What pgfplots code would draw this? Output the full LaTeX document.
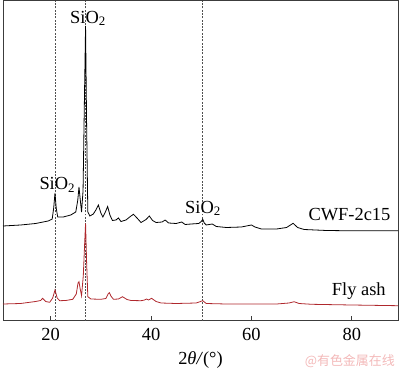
\documentclass[border=0pt]{standalone}
\usepackage{pgfplots}
\pgfplotsset{compat=1.18}
\usepackage{fontspec}
\setmainfont{Liberation Serif}
\newfontfamily\cjk{Noto Sans CJK SC}
\definecolor{redline}{RGB}{175,40,45}
\definecolor{framec}{RGB}{60,60,60}
\definecolor{dashc}{RGB}{80,80,80}
\definecolor{wm}{RGB}{243,185,185}
\begin{document}
\begin{tikzpicture}
\begin{axis}[
  at={(0,0)}, anchor=south west,
  scale only axis, width=395bp, height=319.7bp,
  xmin=10.5, xmax=89.2, ymin=0, ymax=319.7,
  xtick={20,40,60,80}, ytick=\empty,
  xtick pos=left, tick align=inside, major tick length=5bp,
  axis line style={framec, line width=1pt},
  every tick/.style={framec, line width=1pt},
  xticklabel style={anchor=base, yshift=-20bp, font=\fontsize{18.5}{22}\selectfont},
  /pgf/number format/assume math mode=true,
  clip=false,
]
% reference lines
\addplot[dashc, line width=0.7pt, dash pattern=on 2pt off 1.3pt] coordinates {(20.86,0) (20.86,319.7)};
\addplot[dashc, line width=0.7pt, dash pattern=on 2pt off 1.3pt] coordinates {(26.97,0) (26.97,319.7)};
\addplot[dashc, line width=0.7pt, dash pattern=on 2pt off 1.3pt] coordinates {(50.3,0) (50.3,319.7)};
% CWF-2c15
\addplot[black, line width=0.8pt] coordinates {
(10.5,94.7) (14,95.7) (17,97.2) (19.5,99.7) (20.3,101.7) (20.6,112.7) (20.86,127.7) (21.1,112.7) (21.4,103.7)
(22.5,103.7) (24,105.7) (25.0,108.7) (25.4,120.7) (25.64,133.7) (25.9,120.7) (26.15,108.7) (26.45,130)
(26.72,220) (26.95,294.7) (27.15,200) (27.4,108.7) (27.8,104.7) (28.5,106.7) (29.0,110.7) (29.5,115.7)
(30.0,107.7) (30.4,103.7) (30.9,108.7) (31.35,114.2) (31.8,105.7) (32.3,100.2) (33.0,100.7) (33.5,102.7)
(34.0,99.2) (35.0,100.7) (36.0,104.7) (36.5,106.4) (37.2,102.7) (38.0,98.2) (39.0,101.2) (39.65,104.7)
(40.3,100.2) (41.0,98.2) (42.2,98.7) (42.8,100.7) (43.5,97.7) (45.0,97.2) (46.1,98.7) (46.8,96.2)
(48.0,96.7) (49.5,97.2) (50.0,99.2) (50.3,101.4) (50.6,97.7) (51.0,95.7) (52.2,96.7) (53.0,94.2)
(55,93.2) (58,93.7) (59.5,95.2) (60.0,95.7) (60.7,93.7) (62,91.7) (65,91.7) (67,93.2) (68.3,97.4)
(69.2,93.2) (70.5,91.2) (75,90.2) (80,89.9) (89.2,89.9)
};
% Fly ash
\addplot[redline, line width=0.8pt] coordinates {
(10.5,16.7) (14,17.2) (17,19.2) (18.0,20.2) (18.4,22.4) (19.0,19.2) (19.8,18.4) (20.4,22.7) (20.86,30.7)
(21.3,22.7) (21.8,20.0) (23,20.2) (24.4,21.4) (25.1,26.7) (25.45,37.7) (25.64,39.0) (25.85,32.7)
(26.15,25.0) (26.5,45) (26.75,75) (26.95,97.4) (27.15,60) (27.4,24.0) (28,21.7) (30,21.4) (31.0,22.2)
(31.5,27.2) (31.7,28.0) (32.0,24.7) (32.5,21.4) (33.5,21.7) (34.3,24.0) (35.2,21.2) (36.0,20.2)
(38.0,20.0) (38.7,20.7) (39.1,21.7) (39.5,20.7) (40.1,22.4) (41,19.2) (42,17.7) (45,17.2) (49,17.7)
(50.3,20.0) (51,17.2) (55,16.7) (60,16.7) (65,16.7) (67.5,17.7) (68.5,19.0) (69.5,17.2) (72,16.4)
(80,15.7) (89.2,15.0)
};
\end{axis}
\begin{scope}[every node/.style={inner sep=0pt, font=\fontsize{18.5}{22}\selectfont}]
\node[anchor=base west] at (67bp,297.4bp) {SiO\textsubscript{2}};
\node[anchor=base west] at (36.3bp,130.7bp) {SiO\textsubscript{2}};
\node[anchor=base west] at (182bp,107.4bp) {SiO\textsubscript{2}};
\node[anchor=base west] at (305.3bp,100bp) {CWF-2c15};
\node[anchor=base west] at (328.7bp,25.7bp) {Fly ash};
\node[anchor=base] at (197.5bp,-43.3bp) {2\textit{θ/}(°)};
\node[anchor=east, text=wm, font=\cjk\fontsize{13}{15}\selectfont] at (392bp,-40.8bp) {@有色金属在线};
\end{scope}
\pgfresetboundingbox
\path[use as bounding box] (-3bp,-47.3bp) rectangle (397bp,320.7bp);
\end{tikzpicture}
\end{document}
